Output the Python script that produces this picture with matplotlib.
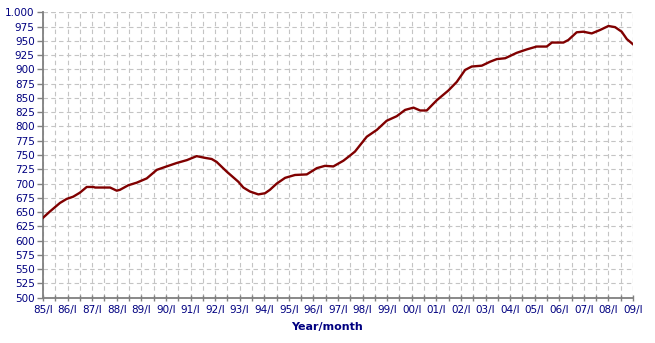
import matplotlib
matplotlib.use("Agg")
import matplotlib.pyplot as plt
from matplotlib.ticker import FixedLocator, FuncFormatter

# Data (decimal year, index value)
dates = [1985.0, 1985.28, 1985.69, 1985.96, 1986.23, 1986.5, 1986.78, 1987.05, 1987.12, 1987.73,
         1988.0, 1988.13, 1988.47, 1988.81, 1989.22, 1989.63, 1990.03, 1990.44, 1990.85, 1991.25,
         1991.59, 1991.86, 1992.06, 1992.47, 1992.95, 1993.15, 1993.42, 1993.76, 1994.03, 1994.23,
         1994.51, 1994.85, 1995.25, 1995.73, 1996.14, 1996.47, 1996.81, 1997.22, 1997.46, 1997.69,
         1998.17, 1998.58, 1998.98, 1999.39, 1999.73, 2000.07, 2000.34, 2000.61, 2001.02, 2001.49,
         2001.83, 2002.17, 2002.44, 2002.85, 2003.19, 2003.46, 2003.8, 2004.27, 2004.68, 2005.08,
         2005.49, 2005.7, 2006.17, 2006.37, 2006.71, 2006.98, 2007.32, 2007.66, 2008.0, 2008.27,
         2008.54, 2008.75, 2009.0]
values = [640, 651, 666, 673, 677, 684, 694, 694, 693, 693,
          687.5, 689, 697, 701.5, 709, 724, 730, 736, 741, 748,
          745, 743, 738, 721, 703, 693, 686, 681, 683, 689,
          700, 710, 715, 716, 727, 731, 730, 740, 748, 756,
          782, 794, 810, 818, 829, 833, 828, 828, 846, 863,
          878, 899, 905, 906.5, 913.5, 918, 919.5, 929, 935, 940,
          940, 947, 947, 951.5, 965, 966, 963, 969, 976, 974,
          966, 953, 944]

years = list(range(1985, 2010))
xlabels = [f"{y % 100:02d}/I" for y in years]
yticks = list(range(500, 1001, 25))
xlabel_text = "Year/month"

W, H = 655, 343
fig = plt.figure(figsize=(W / 100, H / 100), dpi=100)
ax = fig.add_axes([43 / W, 1 - 297.7 / H, 590 / W, (297.7 - 12.3) / H])

navy = "#000080"
gray = "#808080"
gridc = "#c4c4c4"
dash = (0, (4, 3))

ax.plot(dates, values, color="#800000", lw=1.7, solid_joinstyle="round", zorder=3)

ax.set_xlim(1985, 2009)
ax.set_ylim(500, 1000)

ax.xaxis.set_major_locator(FixedLocator(years))
ax.xaxis.set_minor_locator(FixedLocator([y + 0.5 for y in years[:-1]]))
ax.set_xticklabels(xlabels)
ax.yaxis.set_major_locator(FixedLocator(yticks))
ax.yaxis.set_major_formatter(FuncFormatter(lambda v, p: "1.000" if v >= 1000 else f"{int(v)}"))

for s in ["top", "right"]:
    ax.spines[s].set_visible(False)
for s in ["left", "bottom"]:
    ax.spines[s].set_color(gray)
    ax.spines[s].set_linewidth(1.3)

ax.grid(True, which="both", axis="x", color=gridc, ls=dash, lw=0.8)
ax.grid(True, which="major", axis="y", color=gridc, ls=dash, lw=0.8)
ax.set_axisbelow(True)
ax.axhline(1000, color=gridc, ls=dash, lw=0.8, zorder=1)
ax.axvline(2009, color=gridc, ls=dash, lw=0.8, zorder=1)

ax.tick_params(axis="x", which="both", direction="inout", length=4, width=1, color=gray,
               labelcolor=navy, labelsize=7.5, pad=3)
ax.tick_params(axis="y", which="major", direction="out", length=4, width=1, color=gray,
               labelcolor=navy, labelsize=7.5, pad=2)

ax.set_xlabel(xlabel_text, color=navy, fontsize=8, fontweight="bold")
ax.xaxis.set_label_coords((327 - 43) / 590, -(327 - 297.7) / (297.7 - 12.3), transform=ax.transAxes)
ax.xaxis.label.set_verticalalignment("center")

fig.savefig("out.png", dpi=100)
